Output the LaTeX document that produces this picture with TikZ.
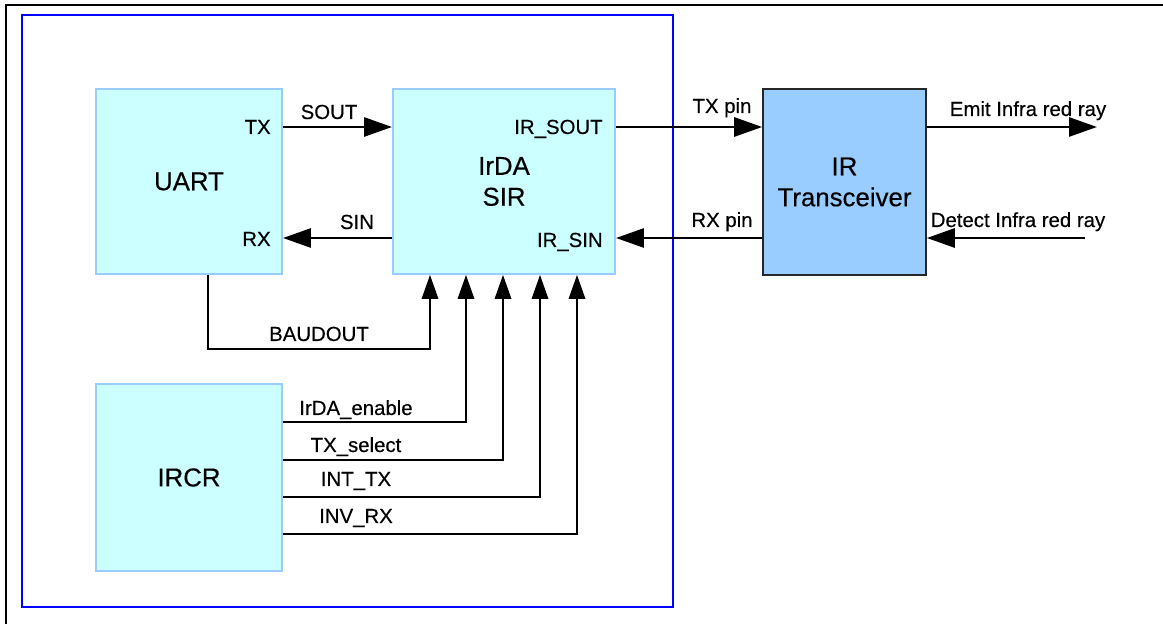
\documentclass[tikz,border=0pt]{standalone}
\usepackage{fontspec}
\setmainfont{Liberation Sans}
\newfontfamily\heavy{Liberation Sans}[FakeBold=0.35]
\usetikzlibrary{arrows.meta,positioning}
\definecolor{cellfill}{HTML}{CCFFFF}
\definecolor{celledge}{HTML}{99CCFF}
\definecolor{trxfill}{HTML}{99CCFF}
\definecolor{chipedge}{HTML}{0000FF}

\begin{document}
\begin{tikzpicture}[x=0.02cm, y=-0.02cm,
  cell/.style={rectangle, draw=celledge, line width=1.1pt, fill=cellfill, minimum width=3.72cm, minimum height=3.7cm, align=center, font=\heavy\fontsize{14.7}{17.6}\selectfont},
  trx/.style={rectangle, draw=black!85, line width=0.9pt, fill=trxfill, minimum width=3.26cm, minimum height=3.72cm, align=center, font=\heavy\fontsize{14.7}{17.6}\selectfont},
  port/.style={inner sep=0pt, font=\heavy\fontsize{11.6}{14}\selectfont},
  sig/.style={-{Triangle[length=0.56cm,width=0.38cm]}, line width=1.6pt},
  ctl/.style={-{Triangle[length=0.48cm,width=0.33cm]}, line width=1pt}
]
  \useasboundingbox (0,0) rectangle (1163,624);
  % page frame and chip boundary
  \draw[line width=0.6pt] (6,624) -- (6,5) -- (1163,5);
  \draw[chipedge, line width=0.9pt] (22,15) rectangle (673,607);

  % blocks
  \node[cell] (uart) at (189,181.5) {UART};
  \node[cell, minimum width=4.44cm] (sir) at (504,181.5) {IrDA\\SIR};
  \node[trx] (ir) at (844.5,182) {IR\\Transceiver};
  \node[cell, minimum height=3.74cm] (ircr) at (189,477.5) {IRCR};

  % pin names
  \node[port, anchor=base east] (tx) at (271,134) {TX};
  \node[port, anchor=base east] (rx) at (271,246) {RX};
  \node[port, anchor=base east] (irsout) at (603,134) {IR\_SOUT};
  \node[port, anchor=base east] (irsin) at (603,247) {IR\_SIN};

  \coordinate (rowtx) at (0,127);
  \coordinate (rowrx) at (0,238);
  \coordinate (emitend) at (1097,127);
  \coordinate (detbeg) at (1085,238);

  % serial paths
  \draw[sig] (uart.east |- rowtx) -- (sir.west |- rowtx);
  \draw[sig] (sir.west |- rowrx) -- (uart.east |- rowrx);
  \draw[sig] (sir.east |- rowtx) -- (ir.west |- rowtx);
  \draw[sig] (ir.west |- rowrx) -- (sir.east |- rowrx);
  \draw[sig] (ir.east |- rowtx) -- (emitend);
  \draw[sig] (detbeg) -- (ir.east |- rowrx);

  \node[port, anchor=base] (sout) at (329,119) {SOUT};
  \node[port, anchor=base] (sin) at (357,229) {SIN};
  \node[port, anchor=base] (txpin) at (722,113) {TX pin};
  \node[port, anchor=base] (rxpin) at (722,227) {RX pin};
  \node[port, anchor=base] (emit) at (1028,116) {Emit Infra red ray};
  \node[port, anchor=base] (detect) at (1018,227) {Detect Infra red ray};

  % baud clock
  \coordinate (bdl) at (208,349);
  \coordinate (bdr) at (430,349);
  \draw[ctl] (uart.south -| bdl) -- (bdl) -- (bdr) -- (sir.south -| bdr);
  \node[port, anchor=base] (baud) at (319,341) {BAUDOUT};

  % control bits
  \foreach \nm/\yy/\xx/\bl in {IrDA\_enable/422/466/415, TX\_select/460/503/452, INT\_TX/497/540/486, INV\_RX/534/577/523}{
    \coordinate (k\xx) at (\xx,\yy);
    \draw[ctl] (ircr.east |- k\xx) -| (sir.south -| k\xx);
    \node[port, anchor=base] (bit\xx) at (356,\bl) {\nm};
  }
\end{tikzpicture}
\end{document}
